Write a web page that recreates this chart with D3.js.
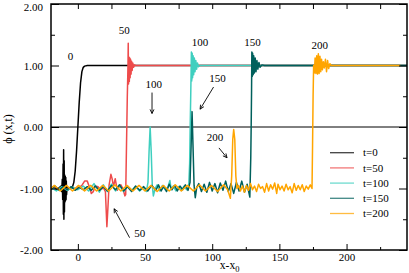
<!DOCTYPE html>
<html><head><meta charset="utf-8">
<script src="https://cdn.jsdelivr.net/npm/d3@7"></script>
<style>
html,body{margin:0;padding:0;background:#fff;}
svg text{font-family:"Liberation Serif","Times New Roman",serif;fill:#000;}
</style></head>
<body><svg id="c" width="409" height="273"></svg>
<script>
// ---- data (x - x0, phi) ----
const t0 = [[-20,-1.0],[-18,-0.97],[-16,-1.02],[-14,-0.99],[-12.5,-0.96],[-12,-1.05],[-11.6,-0.85],[-11.3,-1.18],[-11.0,-0.6],[-10.8,-1.42],[-10.6,-0.37],[-10.4,-1.5],[-10.2,-0.55],[-10.0,-1.38],[-9.8,-0.78],[-9.6,-1.22],[-9.4,-0.8],[-9.2,-1.2],[-9.0,-0.82],[-8.8,-1.18],[-8.6,-0.88],[-8.4,-1.1],[-8.0,-0.97],[-7,-1.02],[-6,-1.0],[-5,-0.99],[-4,-0.97],[-3,-0.9],[-2,-0.72],[-1,-0.4],[0,0],[1,0.4],[2,0.72],[3,0.9],[4,0.97],[5,0.99],[7,1.0],[245,1.0]];
const t50 = [[-20,-1.0],[-17,-0.98],[-14,-1.01],[-11,-0.99],[-8,-1.01],[-5,-0.99],[-2,-1.0],[1,-0.98],[3,-0.95],[5,-0.88],[7,-0.88],[8.5,-0.97],[10,-1.08],[11.5,-1.05],[13,-0.96],[15,-0.97],[17,-1.02],[19,-0.99],[20.5,-1.05],[21.6,-1.62],[22.4,-1.3],[23.2,-0.95],[24.6,-0.77],[25.6,-0.85],[26.5,-0.97],[27.8,-0.84],[29.3,-1.03],[30.5,-0.98],[32,-0.94],[33.5,-1.0],[35,-1.12],[35.6,-1.1],[36.2,-0.3],[36.8,0.5],[37.3,1.0],[37.5,1.36],[37.7,0.7],[38.0,1.14],[38.3,0.74],[38.6,1.12],[38.9,0.8],[39.2,1.1],[39.6,0.86],[40.0,1.07],[40.4,0.92],[40.9,1.04],[41.5,0.97],[42.2,1.01],[43,1.0],[245,1.0]];
const t100 = [[-20,-0.98],[-16,-1.04],[-12,-0.97],[-8,-1.03],[-4,-0.98],[0,-1.02],[4,-0.96],[8,-1.04],[12,-0.92],[16,-1.06],[19,-0.94],[22,-1.05],[25,-0.93],[28,-1.04],[31,-0.95],[34,-1.05],[37,-0.96],[40,-1.03],[43,-0.97],[46,-1.04],[49,-0.98],[51,-1.05],[52.2,-0.9],[53,-0.4],[53.8,0.0],[54.6,-0.4],[55.4,-0.95],[56.2,-1.12],[57.5,-1.0],[59,-0.94],[61,-1.04],[63,-0.95],[65,-1.02],[67,-0.98],[68.5,-0.87],[69.5,-1.02],[71,-0.96],[73,-1.04],[75,-0.97],[77,-1.03],[79,-0.96],[81,-1.02],[82.5,-0.98],[83.2,-0.6],[83.6,0.0],[84,0.5],[84.3,0.9],[84.5,1.22],[84.8,0.75],[85.1,1.2],[85.4,0.8],[85.8,1.16],[86.2,0.85],[86.7,1.12],[87.2,0.9],[87.8,1.08],[88.4,0.94],[89,1.04],[89.8,0.98],[91,1.0],[245,1.0]];
const t150 = [[-20,-1.02],[-17,-0.96],[-14,-1.03],[-11,-0.97],[-8,-1.02],[-5,-0.97],[-2,-1.03],[1,-0.98],[4,-1.02],[7,-0.97],[10,-1.03],[13,-0.96],[16,-1.03],[19,-0.97],[22,-1.04],[25,-0.95],[28,-1.02],[31,-0.94],[34,-1.04],[37,-0.97],[40,-1.05],[43,-0.96],[46,-1.03],[49,-0.97],[52,-1.04],[55,-0.95],[58,-1.03],[60,-0.94],[62,-1.04],[64,-0.96],[66,-1.05],[68,-0.93],[70,-1.02],[72,-0.95],[74,-1.04],[76,-0.96],[78,-1.02],[80,-0.94],[82,-1.03],[83.5,-0.9],[84.3,-0.3],[85,0.25],[85.7,-0.3],[86.5,-0.95],[87.4,-1.15],[88.5,-0.98],[90,-0.92],[92,-1.05],[94,-0.93],[96,-1.06],[98,-0.9],[100,-1.04],[102,-0.92],[104,-1.07],[106,-0.91],[108,-1.03],[110,-0.88],[112,-1.05],[114,-0.92],[116,-1.08],[118,-0.9],[120,-1.04],[122,-0.88],[124,-1.06],[126,-0.93],[128,-1.14],[128.7,-0.5],[129,0.0],[129.3,0.6],[129.5,1.22],[129.8,0.82],[130.1,1.2],[130.5,0.85],[130.9,1.16],[131.4,0.88],[132,1.12],[132.6,0.9],[133.3,1.08],[134,0.94],[134.8,1.05],[135.6,0.97],[137,1.01],[139,1.0],[245,1.0]];
const t200 = [[-20,-1.0],[-17.5,-0.95],[-13,-1.04],[-8.5,-0.95],[-4,-1.04],[0.5,-0.95],[5,-1.04],[9.5,-0.95],[14,-1.04],[18.5,-0.95],[23,-1.04],[27.5,-0.94],[32,-1.04],[36.5,-0.95],[41,-1.04],[45.5,-0.95],[50,-1.04],[54.5,-0.95],[59,-1.05],[63.5,-0.95],[68,-1.04],[72.5,-0.94],[77,-1.04],[81.5,-0.95],[86,-1.04],[90.5,-0.94],[95,-1.04],[99.5,-0.95],[104,-1.05],[108.5,-0.94],[111.5,-1.02],[113.5,-1.16],[114.5,-0.8],[115.3,-0.2],[116,-0.04],[116.8,-0.2],[117.6,-0.8],[118.4,-1.0],[119.5,-0.95],[121,-1.04],[122.5,-0.96],[124,-1.06],[125.5,-0.95],[127,-1.03],[128.5,-0.92],[130,-1.02],[131.5,-0.96],[133,-1.05],[134.5,-0.93],[136,-1.0],[137.5,-0.97],[139,-1.06],[140.5,-0.92],[142,-1.04],[143.5,-0.94],[145,-1.01],[146.5,-0.91],[148,-1.08],[149,-0.93],[150.5,-1.02],[152,-0.96],[153.5,-1.04],[155,-0.93],[156.5,-1.02],[158,-0.97],[159.5,-1.07],[161,-0.92],[162.5,-1.03],[164,-0.95],[165.5,-1.02],[167,-0.94],[168.5,-1.05],[170,-0.96],[171.5,-1.01],[173,-0.94],[174.3,-1.0],[174.7,-0.3],[175.1,0.5],[175.5,1.0],[176,0.88],[176.6,1.12],[177.2,0.87],[177.8,1.16],[178.4,0.86],[179,1.19],[179.6,0.87],[180.2,1.15],[180.8,0.9],[181.4,1.1],[182,0.93],[182.7,1.06],[183.4,0.96],[184.3,1.1],[185.1,0.9],[185.9,1.08],[186.7,0.95],[187.6,1.03],[188.5,1.0],[240,1.0]];

const seriesNames = ["t=0","t=50","t=100","t=150","t=200"];
const seriesData = [t0,t50,t100,t150,t200];
const seriesColors = ["#000000","#ee4b4b","#3fcfbf","#00605c","#ffa500"];

const xMajorTicks = [0,50,100,150,200];
const xMinorTicks = [25,75,125,175,225];
const yMajorTicks = [-2,-1,0,1,2];
const yMinorTicks = [-1.5,-0.5,0.5,1.5];

// annotations: [text, x, y] in data coords; arrows [x1,y1,x2,y2] in data coords
const labels = [["0",-5.5,1.15],["50",34.5,1.58],["100",91,1.38],["150",130,1.38],["200",180,1.33],
                ["100",56.5,0.7],["150",104,0.8],["200",102,-0.17],["50",46,-1.73]];
const arrows = [[55.2,0.56,55.2,0.22],[101,0.65,91,0.29],[105,-0.34,111,-0.5],[38.5,-1.8,27,-1.33]];

// ---- drawing ----
const svg = d3.select("#c");
const L=51,R=407,T=4,B=250;
const x = d3.scaleLinear().domain([-20,245]).range([L,R]);
const y = d3.scaleLinear().domain([-2,2]).range([B,T]);
const font = "'Liberation Serif','Times New Roman',serif";

svg.append("defs").append("clipPath").attr("id","clip")
  .append("rect").attr("x",L).attr("y",T).attr("width",R-L).attr("height",B-T);

// zero line
svg.append("line").attr("x1",L).attr("x2",R).attr("y1",y(0)).attr("y2",y(0))
  .attr("stroke","#000").attr("stroke-width",1);

const line = d3.line().x(d=>x(d[0])).y(d=>y(d[1]));
const g = svg.append("g").attr("clip-path","url(#clip)");
seriesData.forEach((s,i)=>{
  g.append("path").attr("d",line(s)).attr("fill","none")
   .attr("stroke",seriesColors[i]).attr("stroke-width",1.5).attr("stroke-linejoin","round");
});

function styleAxis(sel){
  sel.select(".domain").remove();
  sel.selectAll("line").attr("stroke","#000").attr("stroke-width",1);
  sel.selectAll("text").attr("font-family",font).attr("font-size",11).attr("fill","#000");
}
svg.append("g").attr("transform",`translate(0,${B})`)
  .call(d3.axisBottom(x).tickValues(xMajorTicks).tickSize(-6).tickPadding(3).tickFormat(d=>String(d))).call(styleAxis);
svg.append("g").attr("transform",`translate(0,${B})`)
  .call(d3.axisBottom(x).tickValues(xMinorTicks).tickSize(-3).tickFormat("")).call(styleAxis);
svg.append("g").attr("transform",`translate(0,${T})`)
  .call(d3.axisTop(x).tickValues(xMajorTicks.concat(xMinorTicks)).tickSize(-5).tickFormat("")).call(styleAxis);
const yl = svg.append("g").attr("transform",`translate(${L},0)`)
  .call(d3.axisLeft(y).tickValues(yMajorTicks).tickSize(-8).tickPadding(8).tickFormat(d=>d.toFixed(2))).call(styleAxis);
// keep the top label inside the picture
yl.selectAll(".tick text").filter(d=>d===2).attr("dy","0.55em");
svg.append("g").attr("transform",`translate(${L},0)`)
  .call(d3.axisLeft(y).tickValues(yMinorTicks).tickSize(-4).tickFormat("")).call(styleAxis);
svg.append("g").attr("transform",`translate(${R},0)`)
  .call(d3.axisRight(y).tickValues(yMajorTicks).tickSize(-8).tickFormat("")).call(styleAxis);
svg.append("g").attr("transform",`translate(${R},0)`)
  .call(d3.axisRight(y).tickValues(yMinorTicks).tickSize(-4).tickFormat("")).call(styleAxis);

// frame
svg.append("rect").attr("x",L).attr("y",T).attr("width",R-L).attr("height",B-T)
  .attr("fill","none").attr("stroke","#000").attr("stroke-width",1.5);

// axis titles
svg.append("text").attr("transform",`translate(12,${(y(0)+2)}) rotate(-90)`)
  .attr("text-anchor","middle").attr("font-size",12).text("ϕ (x,t)");
const xt = svg.append("text").attr("x",x(113)).attr("y",269).attr("text-anchor","middle").attr("font-size",11.5);
xt.append("tspan").text("x-x");
xt.append("tspan").attr("dy",3).attr("font-size",8.5).text("0");

// annotations
labels.forEach(l=>{
  svg.append("text").attr("x",x(l[1])).attr("y",y(l[2])).attr("dy","0.35em")
    .attr("text-anchor","middle").attr("font-size",11).text(l[0]);
});
arrows.forEach(a=>{
  const x1=x(a[0]),y1=y(a[1]),x2=x(a[2]),y2=y(a[3]);
  svg.append("line").attr("x1",x1).attr("y1",y1).attr("x2",x2).attr("y2",y2)
    .attr("stroke","#000").attr("stroke-width",0.9);
  const ang=Math.atan2(y2-y1,x2-x1), h=4.5, w=0.45;
  const p1=[x2-h*Math.cos(ang-w), y2-h*Math.sin(ang-w)];
  const p2=[x2-h*Math.cos(ang+w), y2-h*Math.sin(ang+w)];
  svg.append("path").attr("d",`M${p1}L${x2},${y2}L${p2}`).attr("fill","none")
    .attr("stroke","#000").attr("stroke-width",0.9);
});

// legend
const lg = svg.append("g");
seriesNames.forEach((n,i)=>{
  const yy = 152.7 + i*15.2;
  lg.append("line").attr("x1",330).attr("x2",354).attr("y1",yy).attr("y2",yy)
    .attr("stroke",seriesColors[i]).attr("stroke-width",1.3).attr("stroke-opacity",0.75);
  lg.append("text").attr("x",363).attr("y",yy).attr("dy","0.33em").attr("font-size",11).text(n);
});
</script></body></html>
